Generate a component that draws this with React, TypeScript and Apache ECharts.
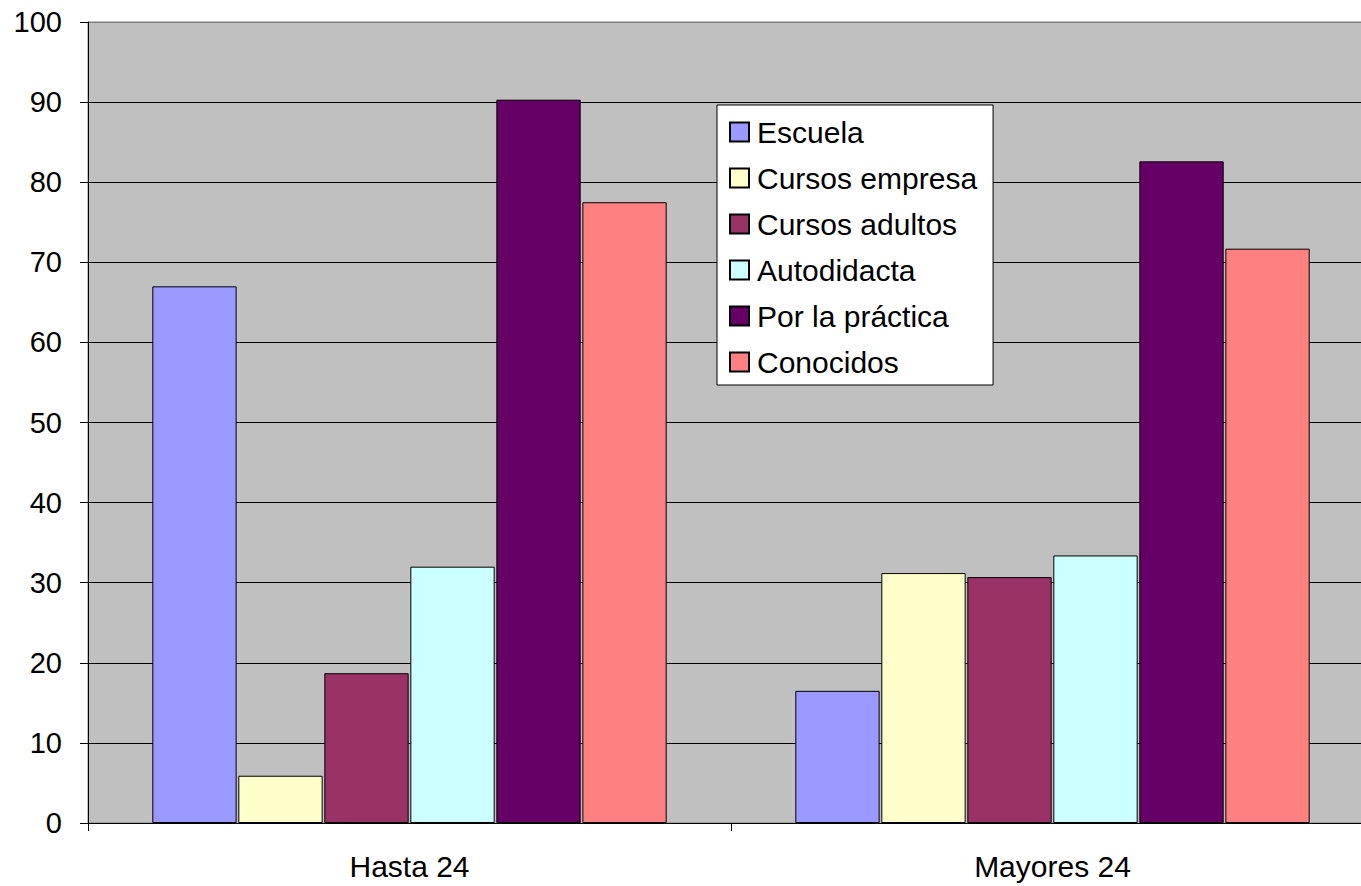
import React, { useEffect, useRef } from "react";
import * as echarts from "echarts";

const categories = ["Hasta 24", "Mayores 24"];
const seriesNames = ["Escuela", "Cursos empresa", "Cursos adultos", "Autodidacta", "Por la práctica", "Conocidos"];
const escuela = [67.0, 16.5];
const cursosEmpresa = [5.9, 31.2];
const cursosAdultos = [18.7, 30.7];
const autodidacta = [32.0, 33.4];
const porLaPractica = [90.3, 82.6];
const conocidos = [77.5, 71.7];
const colors = ["#9999FF", "#FFFFCC", "#993366", "#CCFFFF", "#660066", "#FF8080"];
const yTicks = [0, 10, 20, 30, 40, 50, 60, 70, 80, 90, 100];

const FONT = "'Liberation Sans', Arial, sans-serif";

export default function App() {
  const ref = useRef<HTMLDivElement>(null);
  useEffect(() => {
    if (!ref.current) return;
    const chart = echarts.init(ref.current, undefined, { renderer: "svg" });
    const values = [escuela, cursosEmpresa, cursosAdultos, autodidacta, porLaPractica, conocidos];
    const splitColors = yTicks.map((t, i) => (i === yTicks.length - 1 ? "#808080" : "#000000"));
    chart.setOption({
      animation: false,
      backgroundColor: "#ffffff",
      textStyle: { fontFamily: FONT },
      grid: {
        left: 88,
        top: 22,
        width: 1286,
        height: 801,
        show: true,
        backgroundColor: "#C0C0C0",
        borderColor: "#808080",
        borderWidth: 1,
        containLabel: false,
      },
      legend: {
        orient: "vertical",
        left: 717,
        top: 105,
        backgroundColor: "#ffffff",
        borderColor: "#000000",
        borderWidth: 1,
        borderRadius: 0,
        padding: [12, 16, 8, 12],
        itemWidth: 19,
        itemHeight: 19,
        itemGap: 16,
        icon: "rect",
        textStyle: { fontFamily: FONT, fontSize: 30, color: "#000000", lineHeight: 30, padding: [0, 0, 0, 3] },
        data: seriesNames,
      },
      xAxis: {
        type: "category",
        data: categories,
        axisLine: { lineStyle: { color: "#000000", width: 1 } },
        axisTick: { show: true, length: 8, lineStyle: { color: "#000000" } },
        axisLabel: { fontFamily: FONT, fontSize: 30, color: "#000000", margin: 28 },
        splitLine: { show: false },
      },
      yAxis: {
        type: "value",
        min: 0,
        max: 100,
        interval: 10,
        axisLine: { show: true, lineStyle: { color: "#000000", width: 1 } },
        axisTick: { show: true, length: 8, lineStyle: { color: "#000000" } },
        axisLabel: { fontFamily: FONT, fontSize: 29, color: "#000000", margin: 26 },
        splitLine: { show: true, lineStyle: { color: splitColors, width: 1 } },
      },
      series: seriesNames.map((name, i) => ({
        name,
        type: "bar",
        data: values[i],
        barGap: "2%",
        barCategoryGap: "20%",
        itemStyle: { color: colors[i], borderColor: "#000000", borderWidth: 1 },
      })),
    });
    return () => chart.dispose();
  }, []);
  return (
    <div style={{ position: "absolute", left: 0, top: 0, width: 1361, height: 886, overflow: "hidden" }}>
      <div ref={ref} style={{ position: "absolute", left: 0, top: 0, width: 1400, height: 886 }} />
    </div>
  );
}
